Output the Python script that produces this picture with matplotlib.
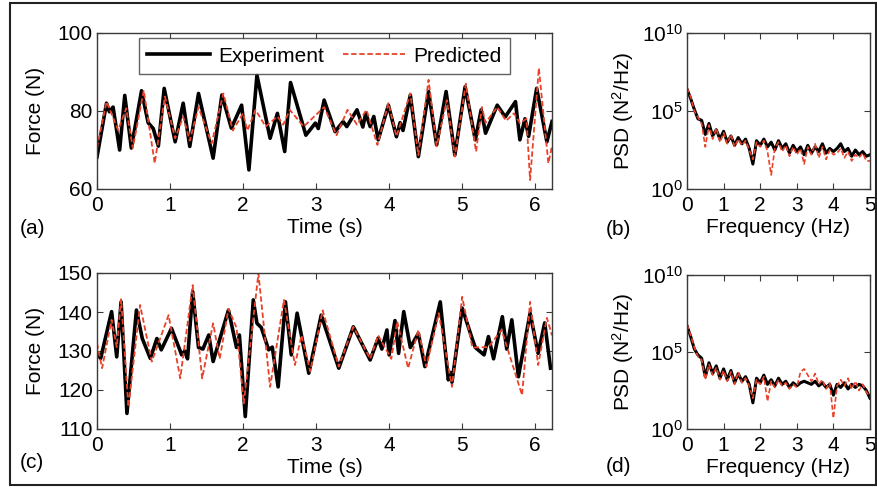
import numpy as np
import matplotlib.pyplot as plt
from matplotlib.patches import Rectangle

plt.rcParams['font.family'] = ['Liberation Sans', 'DejaVu Sans']
plt.rcParams['mathtext.fontset'] = 'custom'
plt.rcParams['mathtext.rm'] = 'Liberation Sans'
plt.rcParams['mathtext.it'] = 'Liberation Sans'

# (a) force, experiment
ta_exp = [0.0, 0.13, 0.17, 0.22, 0.31, 0.38, 0.47, 0.61, 0.70, 0.77, 0.84, 0.92, 1.07, 1.18,
          1.27, 1.39, 1.59, 1.71, 1.84, 1.98, 2.08, 2.19, 2.37, 2.47, 2.57, 2.65, 2.86, 2.99,
          3.03, 3.11, 3.26, 3.37, 3.42, 3.56, 3.64, 3.68, 3.74, 3.79, 3.85, 3.99, 4.10, 4.15,
          4.19, 4.29, 4.40, 4.54, 4.65, 4.78, 4.90, 5.04, 5.18, 5.26, 5.32, 5.48, 5.59, 5.73,
          5.79, 5.86, 5.91, 6.02, 6.16, 6.23]
fa_exp = [68.2, 82.0, 79.8, 81.0, 70.0, 84.0, 70.5, 85.2, 77.0, 75.5, 71.0, 85.8, 72.1, 82.0,
          70.9, 84.5, 67.9, 84.1, 75.6, 81.5, 64.9, 89.2, 73.0, 79.4, 69.6, 87.3, 73.8, 76.9,
          75.5, 82.8, 74.7, 77.3, 76.0, 80.3, 75.9, 79.4, 76.0, 78.6, 72.6, 81.5, 73.4, 77.0,
          75.0, 84.1, 68.3, 85.0, 71.3, 85.0, 68.7, 86.2, 72.6, 80.3, 74.3, 81.5, 78.5, 82.4,
          72.6, 78.0, 73.5, 85.8, 72.1, 77.3]

# (a) force, predicted
ta_pre = [0.0, 0.13, 0.29, 0.40, 0.49, 0.64, 0.79, 0.93, 1.07, 1.18, 1.27, 1.39, 1.57, 1.73,
          1.86, 2.00, 2.06, 2.17, 2.31, 2.47, 2.55, 2.64, 2.83, 3.11, 3.28, 3.43, 3.56, 3.69,
          3.84, 3.99, 4.10, 4.29, 4.40, 4.54, 4.65, 4.79, 4.90, 5.05, 5.19, 5.27, 5.32, 5.48,
          5.60, 5.71, 5.79, 5.88, 5.93, 6.05, 6.18, 6.23]
fa_pre = [70.5, 82.4, 75.1, 80.7, 70.5, 85.3, 66.6, 83.7, 73.0, 78.5, 72.4, 81.0, 71.7, 84.5,
          75.0, 79.4, 75.0, 80.3, 76.0, 78.6, 76.5, 80.3, 76.0, 81.0, 73.8, 80.3, 76.5, 80.3,
          71.3, 82.0, 73.5, 84.5, 68.7, 88.0, 71.0, 82.8, 68.3, 87.0, 69.6, 81.0, 77.0, 81.0,
          77.5, 79.4, 76.9, 78.0, 62.3, 91.0, 66.6, 71.0]

# (c) force, experiment
tc_exp = [0.0, 0.05, 0.20, 0.27, 0.33, 0.41, 0.54, 0.62, 0.73, 0.82, 0.88, 1.02, 1.16, 1.20,
          1.24, 1.31, 1.39, 1.45, 1.53, 1.59, 1.80, 1.91, 1.95, 2.03, 2.14, 2.19, 2.25, 2.35,
          2.40, 2.48, 2.58, 2.66, 2.74, 2.90, 3.07, 3.31, 3.51, 3.74, 3.85, 3.90, 3.97, 4.00,
          4.08, 4.13, 4.20, 4.29, 4.40, 4.49, 4.70, 4.81, 4.84, 4.86, 5.00, 5.14, 5.18, 5.30,
          5.36, 5.43, 5.55, 5.61, 5.68, 5.77, 5.93, 6.04, 6.13, 6.21]
fc_exp = [129.4, 128.1, 140.1, 128.5, 142.6, 114.0, 140.5, 133.2, 128.1, 133.2, 130.3, 135.8,
          129.0, 130.0, 128.0, 145.2, 130.9, 130.5, 134.1, 127.3, 140.5, 130.9, 134.1, 113.2,
          143.1, 137.1, 136.0, 130.3, 131.0, 120.8, 142.6, 129.0, 139.7, 124.3, 139.2, 125.6,
          136.2, 127.7, 133.3, 130.5, 135.4, 129.0, 137.8, 129.4, 140.1, 130.9, 134.5, 126.0,
          142.6, 122.6, 124.5, 122.0, 141.0, 133.0, 130.9, 129.0, 133.7, 128.0, 138.8, 130.5,
          138.0, 123.4, 139.7, 129.4, 137.2, 125.6]

# (c) force, predicted
tc_pre = [0.0, 0.07, 0.20, 0.27, 0.33, 0.43, 0.59, 0.75, 0.98, 1.14, 1.31, 1.44, 1.59, 1.68,
          1.80, 1.91, 2.01, 2.21, 2.37, 2.56, 2.71, 2.80, 2.92, 3.09, 3.31, 3.51, 3.74, 3.85,
          4.03, 4.11, 4.26, 4.40, 4.51, 4.68, 4.86, 5.00, 5.14, 5.36, 5.54, 5.82, 5.93, 6.04,
          6.16, 6.23]
fc_pre = [132.0, 125.6, 138.0, 131.0, 143.3, 115.7, 141.8, 127.3, 139.2, 123.0, 146.9, 123.0,
          137.1, 128.0, 140.8, 136.0, 116.6, 149.9, 120.8, 143.1, 126.4, 134.0, 124.8, 140.4,
          126.0, 136.2, 128.0, 134.0, 128.0, 137.6, 125.6, 135.4, 126.0, 139.7, 120.8, 143.9,
          130.9, 131.0, 135.4, 118.7, 142.6, 126.4, 138.5, 134.0]

# PSD, log10 of N^2/Hz at 0.1 Hz steps
freq = np.round(np.arange(0, 5.01, 0.1), 1)
b_exp_log = [6.4, 5.8, 5.1, 4.5, 4.4, 3.5, 4.2, 3.4, 3.8, 3.2, 3.7, 3.0, 3.4, 2.8, 3.3, 2.9,
             3.2, 2.6, 1.6, 3.1, 2.8, 3.2, 2.7, 3.0, 2.5, 3.1, 2.6, 2.9, 2.3, 2.8, 2.4, 2.7,
             2.2, 2.8, 2.3, 2.7, 2.4, 2.9, 2.3, 2.6, 2.4, 2.6, 2.9, 2.4, 2.6, 2.1, 2.5, 2.2,
             2.4, 2.1, 2.2]
b_pre_log = [6.5, 5.9, 5.0, 4.6, 4.2, 2.7, 4.1, 3.2, 3.9, 3.0, 3.6, 2.9, 3.5, 2.7, 3.2, 2.8,
             3.1, 2.5, 1.9, 3.0, 2.7, 3.1, 2.4, 0.9, 2.6, 3.0, 2.4, 2.8, 2.1, 2.7, 2.2, 2.6,
             1.6, 2.7, 2.2, 2.9, 2.0, 2.7, 1.9, 2.5, 2.2, 2.3, 2.6, 2.0, 2.4, 1.8, 2.2, 2.0,
             2.3, 1.8, 1.8]
d_exp_log = [6.7, 6.0, 5.2, 4.8, 4.6, 3.4, 4.3, 3.6, 4.1, 3.3, 3.9, 3.2, 3.8, 3.0, 3.6, 3.1,
             3.4, 2.9, 1.7, 3.3, 3.0, 3.5, 2.9, 3.2, 2.8, 3.3, 2.9, 3.1, 2.7, 3.0, 2.8, 3.0,
             3.1, 3.0, 2.9, 3.1, 2.8, 3.0, 2.7, 2.9, 2.2, 2.9, 2.7, 3.0, 2.6, 2.9, 2.7, 2.9,
             2.8, 2.5, 2.0]
d_pre_log = [6.8, 6.1, 5.3, 4.7, 4.5, 3.2, 4.2, 3.5, 4.0, 3.2, 3.8, 3.1, 3.7, 2.9, 3.7, 3.0,
             3.3, 2.8, 2.0, 3.2, 2.9, 3.4, 1.8, 3.1, 2.7, 3.2, 2.8, 3.0, 2.6, 2.9, 2.7, 3.7,
             3.9, 3.5, 3.1, 3.6, 2.9, 3.2, 2.6, 3.0, 0.7, 2.8, 3.2, 2.8, 3.3, 2.6, 3.1, 2.5,
             2.9, 2.4, 2.1]

BLACK = 'black'
RED = '#e8432a'
SPINE = '#3a3a3a'
FS = 15

fig = plt.figure(figsize=(8.77, 4.97), dpi=100)
W, H = 877, 497


def add_ax(left, top, right, bottom):
    return fig.add_axes([left / W, 1 - bottom / H, (right - left) / W, (bottom - top) / H])


def style(ax):
    for s in ax.spines.values():
        s.set_color(SPINE)
        s.set_linewidth(1.0)
    ax.tick_params(direction='in', top=True, right=True, labelsize=FS, color=SPINE, length=4)
    ax.tick_params(axis='x', pad=5)
    ax.tick_params(axis='y', pad=3)
    ax.tick_params(which='minor', length=0)


ax_a = add_ax(97, 33, 552, 189)
ax_b = add_ax(687, 33, 870, 189)
ax_c = add_ax(97, 273, 552, 429)
ax_d = add_ax(687, 275, 870, 429)

for ax, te, fe, tp, fp, ylim, yt in [
        (ax_a, ta_exp, fa_exp, ta_pre, fa_pre, (60, 100), [60, 80, 100]),
        (ax_c, tc_exp, fc_exp, tc_pre, fc_pre, (110, 150), [110, 120, 130, 140, 150])]:
    ax.plot(te, fe, color=BLACK, lw=2.6, label='Experiment', solid_joinstyle='round')
    ax.plot(tp, fp, color=RED, lw=1.3, ls=(0, (3, 1.5)), label='Predicted')
    ax.set_xlim(0, 6.23)
    ax.set_ylim(*ylim)
    ax.set_xticks(range(7))
    ax.set_yticks(yt)
    ax.set_xlabel('Time (s)', fontsize=FS, labelpad=2)
    ax.set_ylabel('Force (N)', fontsize=FS, labelpad=9)
    style(ax)

leg = ax_a.legend(loc='upper center', ncol=2, fontsize=FS, frameon=True, fancybox=False,
                  edgecolor=SPINE, borderpad=0.4, handlelength=3.0, columnspacing=0.9,
                  handletextpad=0.4, bbox_to_anchor=(0.5, 1.0), borderaxespad=0.25)
leg.get_frame().set_linewidth(1.0)

for ax, pe, pp in [(ax_b, b_exp_log, b_pre_log), (ax_d, d_exp_log, d_pre_log)]:
    ax.semilogy(freq, 10.0 ** np.array(pe), color=BLACK, lw=2.2, solid_joinstyle='round')
    ax.semilogy(freq, 10.0 ** np.array(pp), color=RED, lw=1.2, ls=(0, (3, 1.5)))
    ax.set_xlim(0, 5)
    ax.set_ylim(1, 1e10)
    ax.set_xticks(range(6))
    ax.set_yticks([1, 1e5, 1e10])
    ax.set_yticklabels(['$10^{0}$', '$10^{5}$', '$10^{10}$'])
    ax.set_xlabel('Frequency (Hz)', fontsize=FS, labelpad=2)
    ax.set_ylabel('PSD (N$^2$/Hz)', fontsize=FS, labelpad=4)
    style(ax)

for lab, x, y in [('(a)', 20, 229), ('(b)', 606, 230), ('(c)', 20, 463), ('(d)', 606, 467)]:
    fig.text(x / W, 1 - y / H, lab, fontsize=FS, va='center', ha='left')

fig.patches.append(Rectangle((10 / W, 1 - 485 / H), 866 / W, 482 / H, transform=fig.transFigure,
                             fill=False, edgecolor='#222222', lw=1.5))

fig.savefig('out.png', dpi=100)
